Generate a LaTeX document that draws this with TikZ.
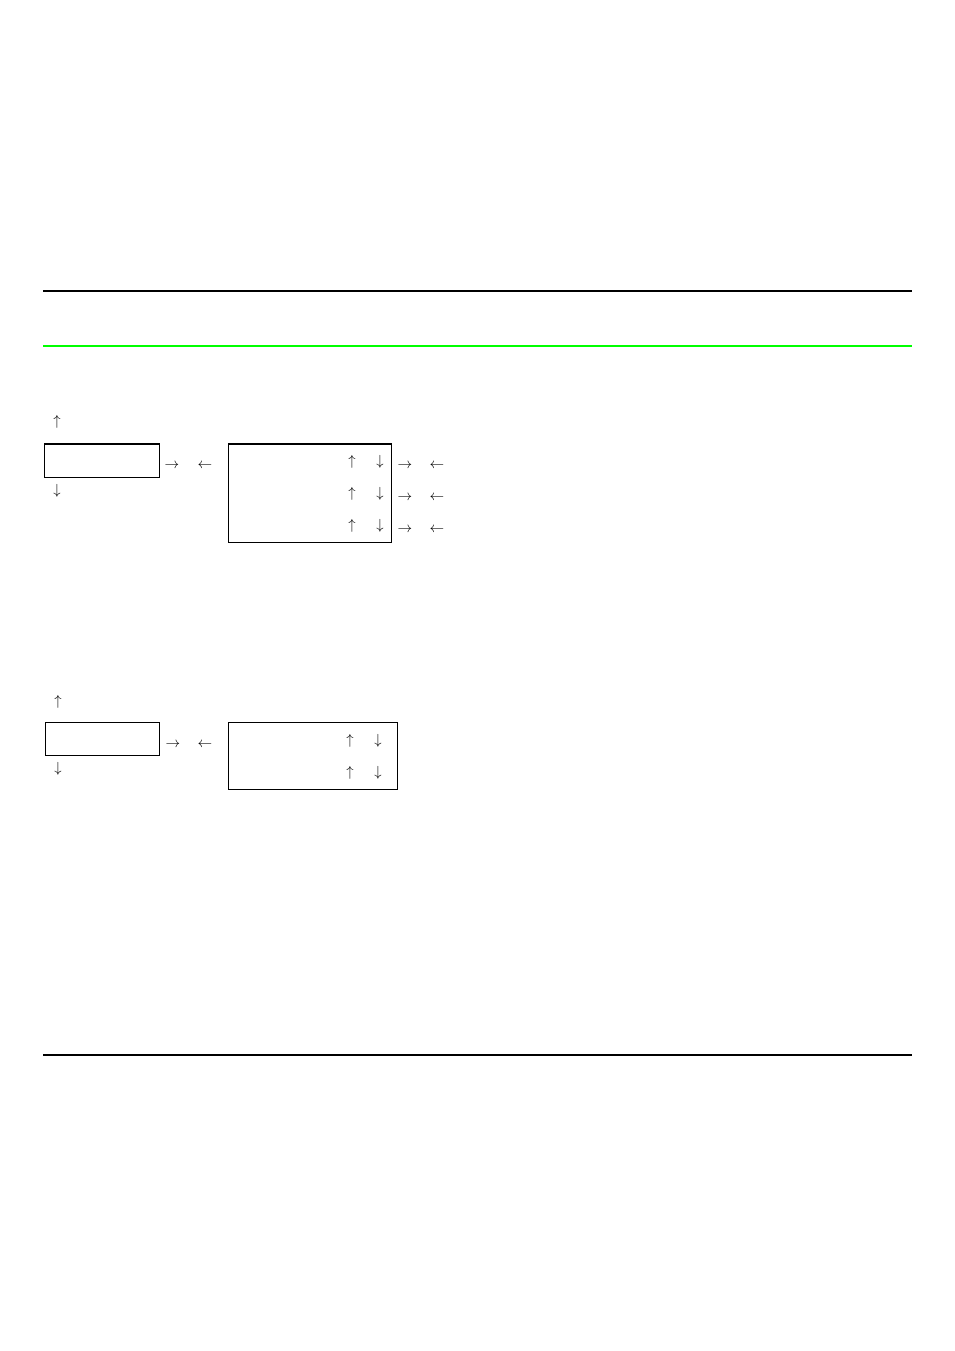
\documentclass[tikz,border=0pt]{standalone}
\begin{document}
\begin{tikzpicture}[x=0.75pt,y=-0.75pt,
  box/.style={draw,line width=0.75pt,inner sep=0pt,anchor=north west},
  glyph/.style={inner sep=0pt,font=\fontsize{10.5}{12}\selectfont},
  rule/.style={line width=0.8pt}]
\useasboundingbox (0,0) rectangle (954,1351);
\definecolor{brightgreen}{RGB}{0,255,0}
% horizontal rules
\draw[rule] (43,291) -- (912,291);
\draw[rule,brightgreen,line width=0.9pt] (43,346) -- (912,346);
\draw[rule] (43,1055) -- (912,1055);
% first group
\node[box,minimum width=115*0.75pt,minimum height=33*0.75pt] (b1) at (44,444) {};
\node[box,minimum width=163*0.75pt,minimum height=98*0.75pt] (b2) at (228,444) {};
\draw[line width=1.5pt] (b2.north west) -- (b2.north east);
\draw[line width=1.5pt] (b1.north west) -- (b1.north east);
\node[glyph] (u1) at (57,422) {$\uparrow$};
\node[glyph] (d1) at (57,491) {$\downarrow$};
\node[glyph] (r1) at (172,466) {$\rightarrow$};
\node[glyph] (l1) at (205,466) {$\leftarrow$};
\foreach \i/\y in {1/462,2/494,3/526}{
  \node[glyph] (bu\i) at (352,\y) {$\uparrow$};
  \node[glyph] (bd\i) at (380,\y) {$\downarrow$};
}
\foreach \i/\y in {1/466,2/498,3/530}{
  \node[glyph] (or\i) at (405,\y) {$\rightarrow$};
  \node[glyph] (ol\i) at (437,\y) {$\leftarrow$};
}
% second group
\node[box,minimum width=114*0.75pt,minimum height=33*0.75pt] (b3) at (45,722) {};
\node[box,minimum width=169*0.75pt,minimum height=67*0.75pt] (b4) at (228,722) {};
\node[glyph] (u2) at (58,702) {$\uparrow$};
\node[glyph] (d2) at (58,769) {$\downarrow$};
\node[glyph] (r2) at (173,745) {$\rightarrow$};
\node[glyph] (l2) at (205,745) {$\leftarrow$};
\foreach \i/\y in {1/741,2/773}{
  \node[glyph] (cu\i) at (350,\y) {$\uparrow$};
  \node[glyph] (cd\i) at (378,\y) {$\downarrow$};
}
\end{tikzpicture}
\end{document}
